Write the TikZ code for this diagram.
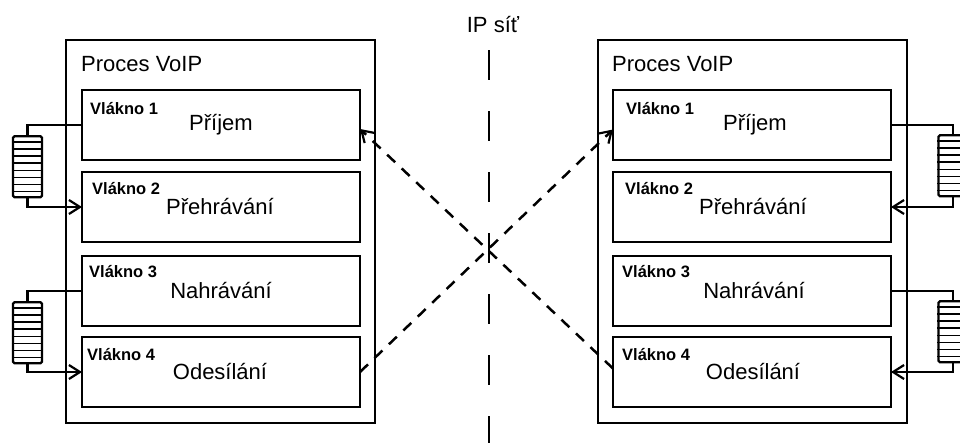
\documentclass[tikz,border=0pt]{standalone}
\usepackage{fontspec}
\setmainfont{Liberation Sans}
\usetikzlibrary{arrows.meta,calc}

\tikzset{
  frame/.style={draw, line width=2.5pt, inner sep=0pt, outer sep=0pt},
  threadbox/.style={frame, anchor=north west, minimum width=278pt, minimum height=70pt},
  procbox/.style={frame, anchor=north west, minimum width=309pt, minimum height=383pt},
  queue/.style={draw, line width=2.3pt, rounded corners=1.5pt, minimum width=29pt, minimum height=61pt, anchor=north, inner sep=0pt},
  stripe/.style={line width=1.3pt},
  wire/.style={line width=2.3pt},
  barb/.style={-{Straight Barb[length=11pt,width=14pt,line width=2.2pt]}},
  netlink/.style={line width=2.5pt, dash pattern=on 11pt off 9pt, barb},
  netline/.style={line width=2.5pt, dash pattern=on 30pt off 31pt},
  title/.style={font=\fontsize{22}{26}\selectfont, anchor=base west, inner sep=0pt},
  task/.style={font=\fontsize{22}{26}\selectfont, anchor=base, inner sep=0pt},
  tag/.style={font=\fontsize{16.5}{19}\selectfont\bfseries, anchor=base west, inner sep=0pt}
}

\begin{document}
\begin{tikzpicture}[x=1pt, y=-1pt]
\useasboundingbox (0,0) rectangle (960,442);
\clip (0,0) rectangle (960,442);

% network boundary
\node[font=\fontsize{22}{26}\selectfont, anchor=base, inner sep=0pt] (ip) at (493,32) {IP síť};
\coordinate (nettop) at (489,50);
\coordinate (netbot) at (489,450);
\draw[netline] (nettop) -- (netbot);

% left process
\node[procbox] (pL) at (66,40) {};
\node[title] (tL) at (81,71) {Proces VoIP};
\node[threadbox] (b1) at (82,90) {};
\node[threadbox] (b2) at (82,172) {};
\node[threadbox] (b3) at (82,256) {};
\node[threadbox] (b4) at (82,337) {};
\node[tag] (v1) at (90,114) {Vlákno 1};
\node[tag] (v2) at (92,194) {Vlákno 2};
\node[tag] (v3) at (89,277) {Vlákno 3};
\node[tag] (v4) at (87,360) {Vlákno 4};
\node[task] (s1) at (221,130) {Příjem};
\node[task] (s2) at (220,214) {Přehrávání};
\node[task] (s3) at (221,298) {Nahrávání};
\node[task] (s4) at (220,379) {Odesílání};

% right process
\node[procbox] (pR) at (598,40) {};
\node[title] (tR) at (612,71) {Proces VoIP};
\node[threadbox] (r1) at (613,90) {};
\node[threadbox] (r2) at (613,172) {};
\node[threadbox] (r3) at (613,256) {};
\node[threadbox] (r4) at (613,337) {};
\node[tag] (w1) at (626,114) {Vlákno 1};
\node[tag] (w2) at (625,194) {Vlákno 2};
\node[tag] (w3) at (622,277) {Vlákno 3};
\node[tag] (w4) at (622,360) {Vlákno 4};
\node[task] (t1) at (755,130) {Příjem};
\node[task] (t2) at (753,214) {Přehrávání};
\node[task] (t3) at (754,298) {Nahrávání};
\node[task] (t4) at (753,379) {Odesílání};

% buffers between threads
\node[queue] (qL1) at (27.5,135) {};
\node[queue] (qL2) at (27.5,301) {};
\node[queue] (qR1) at (953,134) {};
\node[queue] (qR2) at (953,300) {};
\foreach \q in {qL1,qL2,qR1,qR2}{
  \foreach \i in {1,...,8}
    \draw[stripe] ($(\q.north west)!\i/9!(\q.south west)$) -- ($(\q.north east)!\i/9!(\q.south east)$);
}

\draw[wire] (qL1.north) |- (b1.west);
\draw[wire, barb] (qL1.south) |- (b2.west);
\draw[wire] (qL2.north) |- (b3.west);
\draw[wire, barb] (qL2.south) |- (b4.west);

\draw[wire] (r1.east) -| (qR1.north);
\draw[wire, barb] (qR1.south) |- (r2.east);
\draw[wire] (r3.east) -| (qR2.north);
\draw[wire, barb] (qR2.south) |- (r4.east);

% traffic across the network
\draw[netlink] (b4.east) -- ($(r1.west)+(0,4.5)$);
\draw[netlink] ($(r4.west)+(0,-3.5)$) -- ($(b1.east)+(0,4)$);
\end{tikzpicture}
\end{document}
